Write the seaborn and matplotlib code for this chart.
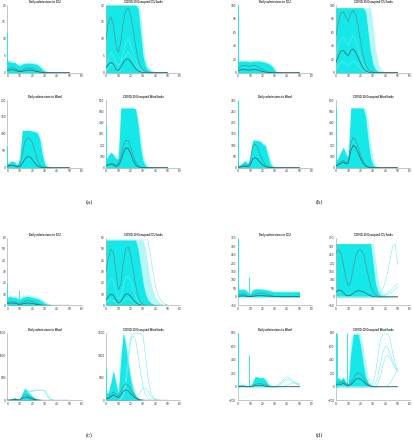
import matplotlib
matplotlib.use("Agg")
import matplotlib.pyplot as plt
import seaborn as sns

sns.set_style("white")
plt.rcParams['font.family'] = ['Liberation Sans', 'DejaVu Sans']

# ---------------- data (days 0..50 every 2 days) ----------------
days = [0, 2, 4, 6, 8, 10, 12, 14, 16, 18, 20, 22, 24, 26, 28, 30, 32, 34, 36, 38, 40, 42, 44, 46, 48, 50]
xticks = [0, 10, 20, 30, 40, 50, 60]

titles = ["Daily admissions to ICU", "COVID-19 Occupied ICU beds",
          "Daily admissions to Ward", "COVID-19 Occupied Ward beds"]
panel_labels = ["(a)", "(b)", "(c)", "(d)"]

# (a)
a1_env = [3.5, 3.2, 3.0, 3.0, 2.4, 2.1, 2.5, 2.7, 2.8, 2.8, 2.7, 2.6, 2.4, 1.8, 1.0, 0.5, 0.3, 0.2, 0.1, 0.1, 0.05, 0, 0, 0, 0, 0]
a1_halo = [3.9, 3.6, 3.4, 3.3, 2.8, 2.5, 2.9, 3.1, 3.2, 3.2, 3.1, 3.0, 2.8, 2.4, 1.6, 0.9, 0.5, 0.3, 0.2, 0.15, 0.1, 0.05, 0.03, 0, 0, 0]
a1_m1 = [1.0, 1.3, 1.5, 1.3, 0.8, 0.5, 0.8, 1.2, 1.4, 1.4, 1.3, 1.0, 0.6, 0.3, 0.1, 0.05, 0, 0, 0, 0, 0, 0, 0, 0, 0, 0]
a1_m2 = [0.6, 0.8, 0.9, 0.8, 0.5, 0.3, 0.4, 0.6, 0.8, 0.8, 0.7, 0.5, 0.3, 0.15, 0.05, 0, 0, 0, 0, 0, 0, 0, 0, 0, 0, 0]

a2_env = [20, 20, 20, 20, 20, 20, 20, 20, 20, 20, 20, 20, 20, 19, 12, 5, 2, 1, 0.5, 0.3, 0.15, 0.1, 0.05, 0, 0, 0]
a2_halo = [20, 20, 20, 20, 20, 20, 20, 20, 20, 20, 20, 20, 20, 20, 18, 10, 4, 2, 1, 0.6, 0.4, 0.3, 0.2, 0.1, 0.05, 0]
a2_in1 = [0.5, 1.5, 2.5, 2, 0.8, 0.4, 1, 3, 5, 6, 5, 3.5, 2, 1, 0.4, 0.2, 0, 0, 0, 0, 0, 0, 0, 0, 0, 0]
a2_in2 = [2, 4, 6, 5, 3, 2, 3, 6, 9, 10, 8, 6, 4, 2, 1, 0.4, 0.1, 0, 0, 0, 0, 0, 0, 0, 0, 0]
a2_m1 = [10, 15, 16.5, 14, 8.5, 6, 9, 15, 18.5, 19, 17, 13, 8, 4, 1.8, 0.8, 0.3, 0.1, 0, 0, 0, 0, 0, 0, 0, 0]
a2_m2 = [1.5, 2.5, 3, 2.5, 1, 0.6, 1.5, 3, 4, 4, 3.3, 2.2, 1.2, 0.6, 0.2, 0.1, 0, 0, 0, 0, 0, 0, 0, 0, 0, 0]

a3_env = [12, 16, 20, 15, 10, 25, 110, 110, 110, 110, 108, 106, 104, 85, 40, 10, 3, 1, 0.5, 0, 0, 0, 0, 0, 0, 0]
a3_halo = [14, 18, 22, 17, 12, 40, 112, 112, 112, 112, 110, 108, 106, 95, 70, 25, 8, 3, 1, 0.5, 0.2, 0, 0, 0, 0, 0]
a3_m1 = [5, 7, 8, 6, 3, 8, 40, 75, 88, 87, 75, 50, 25, 8, 2, 0.5, 0, 0, 0, 0, 0, 0, 0, 0, 0, 0]
a3_m2 = [4, 6, 7, 5, 2, 3, 12, 25, 33, 32, 25, 14, 6, 2, 0.5, 0, 0, 0, 0, 0, 0, 0, 0, 0, 0, 0]

a4_env = [70, 110, 135, 115, 80, 80, 530, 530, 530, 530, 530, 530, 520, 380, 180, 60, 20, 8, 3, 1, 0, 0, 0, 0, 0, 0]
a4_halo = [80, 120, 145, 125, 90, 150, 530, 530, 530, 530, 530, 530, 530, 450, 300, 130, 45, 15, 5, 2, 1, 0, 0, 0, 0, 0]
a4_m1 = [20, 30, 40, 35, 22, 35, 100, 190, 245, 240, 185, 110, 50, 18, 5, 1, 0, 0, 0, 0, 0, 0, 0, 0, 0, 0]
a4_m2 = [15, 25, 30, 25, 12, 18, 60, 130, 175, 170, 125, 65, 25, 8, 2, 0, 0, 0, 0, 0, 0, 0, 0, 0, 0, 0]

# (b)
b1_env = [16, 17, 17, 17, 17, 16, 17, 17, 17, 17, 16, 15, 14, 12, 9, 3, 1, 0.5, 0.3, 0, 0, 0, 0, 0, 0, 0]
b1_halo = [18, 19, 19, 19, 19, 18, 19, 19, 19, 19, 18, 17, 16, 14, 12, 6, 2, 1, 0.5, 0.3, 0.1, 0, 0, 0, 0, 0]
b1_m1 = [6, 9, 11, 11, 10, 9, 11, 11, 9, 7, 5, 3, 1.5, 0.6, 0.2, 0, 0, 0, 0, 0, 0, 0, 0, 0, 0, 0]
b1_m2 = [3, 4, 5, 5, 4, 4, 5, 5, 4, 3, 2, 1, 0.5, 0.2, 0, 0, 0, 0, 0, 0, 0, 0, 0, 0, 0, 0]

b2_env = [96, 96, 96, 96, 96, 96, 96, 96, 96, 96, 96, 96, 90, 60, 30, 12, 5, 2, 1, 0.5, 0.2, 0.1, 0, 0, 0, 0]
b2_halo = [96, 96, 96, 96, 96, 96, 96, 96, 96, 96, 96, 96, 96, 96, 96, 70, 35, 15, 6, 3, 1.5, 0.8, 0.4, 0.2, 0.1, 0]
b2_in1 = [5, 10, 15, 16, 12, 10, 14, 17, 15, 10, 6, 3, 1, 0.4, 0, 0, 0, 0, 0, 0, 0, 0, 0, 0, 0, 0]
b2_in2 = [25, 40, 50, 52, 45, 40, 50, 55, 48, 35, 22, 11, 5, 2, 0.5, 0, 0, 0, 0, 0, 0, 0, 0, 0, 0, 0]
b2_m1 = [55, 75, 88, 90, 82, 76, 88, 92, 85, 68, 45, 25, 12, 5, 2, 0.5, 0, 0, 0, 0, 0, 0, 0, 0, 0, 0]
b2_m2 = [15, 25, 32, 33, 28, 25, 33, 35, 30, 22, 14, 7, 3, 1, 0.3, 0, 0, 0, 0, 0, 0, 0, 0, 0, 0, 0]

b3_env = [10, 12, 22, 30, 18, 40, 120, 122, 120, 118, 105, 100, 60, 20, 6, 2, 1, 0, 0, 0, 0, 0, 0, 0, 0, 0]
b3_halo = [12, 15, 25, 33, 22, 60, 124, 124, 122, 120, 112, 108, 85, 45, 15, 5, 2, 1, 0, 0, 0, 0, 0, 0, 0, 0]
b3_m1 = [3, 5, 9, 12, 8, 25, 95, 105, 90, 60, 35, 15, 5, 1.5, 0.5, 0, 0, 0, 0, 0, 0, 0, 0, 0, 0, 0]
b3_m2 = [2, 3, 5, 6, 4, 10, 38, 45, 38, 25, 14, 6, 2, 0.5, 0, 0, 0, 0, 0, 0, 0, 0, 0, 0, 0, 0]

b4_env = [60, 90, 140, 180, 120, 90, 530, 530, 530, 530, 530, 530, 450, 250, 90, 25, 8, 3, 1, 0, 0, 0, 0, 0, 0, 0]
b4_halo = [70, 100, 150, 190, 130, 200, 530, 530, 530, 530, 530, 530, 530, 420, 220, 80, 25, 8, 3, 1, 0, 0, 0, 0, 0, 0]
b4_m1 = [20, 35, 55, 65, 45, 60, 220, 270, 240, 175, 110, 55, 22, 8, 2, 0, 0, 0, 0, 0, 0, 0, 0, 0, 0, 0]
b4_m2 = [15, 25, 40, 50, 35, 40, 150, 200, 180, 130, 80, 40, 15, 5, 1, 0, 0, 0, 0, 0, 0, 0, 0, 0, 0, 0]

# (c)
c1_env = [7, 8, 7, 7, 6, 5, 7, 7.5, 8, 7.5, 7, 6.5, 6, 5, 3.5, 2, 1, 0.5, 0.2, 0, 0, 0, 0, 0, 0, 0]
c1_halo = [8.5, 9.5, 8.5, 8.5, 7.5, 6.5, 8.5, 9, 9.5, 9, 8.5, 8, 7.5, 6.5, 5.5, 4, 2.5, 1.2, 0.6, 0.3, 0.1, 0, 0, 0, 0, 0]
c1_m1 = [2.5, 3, 3.2, 3, 2, 1.5, 2.5, 3.5, 4, 4, 3.5, 2.5, 1.5, 0.8, 0.3, 0, 0, 0, 0, 0, 0, 0, 0, 0, 0, 0]
c1_m2 = [1.5, 2, 2, 1.8, 1.2, 0.8, 1.2, 1.8, 2, 2, 1.7, 1.2, 0.7, 0.3, 0, 0, 0, 0, 0, 0, 0, 0, 0, 0, 0, 0]

c2_env = [58, 58, 58, 58, 58, 58, 58, 58, 58, 58, 58, 58, 58, 50, 35, 20, 10, 5, 2.5, 1.2, 0.6, 0.3, 0.1, 0, 0, 0]
c2_halo = [58, 58, 58, 58, 58, 58, 58, 58, 58, 58, 58, 58, 58, 58, 58, 58, 50, 35, 22, 13, 7, 4, 2, 1, 0.5, 0.2]
c2_out1 = [58, 58, 58, 58, 58, 58, 58, 58, 58, 58, 58, 58, 58, 58, 58, 58, 58, 58, 45, 30, 18, 10, 5, 2.5, 1, 0.5]
c2_in1 = [2, 4, 5, 4, 2, 1, 1.5, 4, 6, 6, 5, 3, 1.5, 0.5, 0, 0, 0, 0, 0, 0, 0, 0, 0, 0, 0, 0]
c2_in2 = [12, 20, 24, 22, 13, 6, 8, 18, 25, 26, 22, 15, 8, 3, 1, 0, 0, 0, 0, 0, 0, 0, 0, 0, 0, 0]
c2_m1 = [30, 42, 50, 47, 30, 14, 18, 38, 50, 52, 45, 32, 18, 8, 3, 1, 0, 0, 0, 0, 0, 0, 0, 0, 0, 0]
c2_m2 = [5, 8, 10, 9, 5, 2, 3, 7, 10, 10, 8, 5, 2.5, 1, 0.3, 0, 0, 0, 0, 0, 0, 0, 0, 0, 0, 0]

c3_env = [20, 15, 40, 60, 30, 20, 150, 270, 200, 140, 90, 50, 25, 10, 4, 1, 0, 0, 0, 0, 0, 0, 0, 0, 0, 0]
c3_halo = [25, 20, 45, 65, 35, 30, 170, 280, 230, 170, 115, 70, 40, 20, 8, 3, 1, 0, 0, 0, 0, 0, 0, 0, 0, 0]
c3_out1 = [0, 0, 0, 0, 0, 0, 40, 120, 180, 205, 215, 225, 230, 230, 228, 220, 90, 20, 5, 1, 0, 0, 0, 0, 0, 0]
c3_out2 = [0, 0, 0, 0, 0, 0, 30, 100, 160, 190, 200, 210, 215, 218, 215, 205, 150, 50, 12, 3, 0, 0, 0, 0, 0, 0]
c3_m1 = [8, 6, 15, 25, 12, 10, 70, 130, 110, 75, 45, 22, 10, 4, 1.5, 0, 0, 0, 0, 0, 0, 0, 0, 0, 0, 0]
c3_m2 = [5, 4, 10, 15, 8, 6, 40, 75, 65, 45, 28, 14, 6, 2, 0.5, 0, 0, 0, 0, 0, 0, 0, 0, 0, 0, 0]

c4_env = [150, 180, 400, 650, 380, 150, 900, 1500, 1200, 800, 450, 220, 100, 40, 15, 5, 2, 0, 0, 0, 0, 0, 0, 0, 0, 0]
c4_halo = [180, 220, 450, 700, 450, 250, 1100, 1500, 1400, 1000, 600, 320, 150, 60, 25, 8, 3, 1, 0, 0, 0, 0, 0, 0, 0, 0]
c4_out1 = [0, 0, 0, 0, 0, 0, 20, 100, 300, 800, 1300, 1480, 1480, 1480, 1480, 1450, 1000, 500, 200, 80, 30, 10, 0, 0, 0, 0]
c4_out2 = [0, 0, 0, 0, 0, 0, 30, 150, 500, 1000, 1400, 1420, 1350, 1000, 600, 300, 120, 40, 10, 0, 0, 0, 0, 0, 0, 0]
c4_out3 = [0, 0, 0, 0, 0, 0, 0, 0, 0, 0, 0, 0, 40, 100, 200, 260, 270, 200, 100, 40, 10, 0, 0, 0, 0, 0]
c4_m1 = [50, 60, 120, 190, 140, 90, 200, 320, 370, 330, 240, 150, 80, 35, 12, 4, 0, 0, 0, 0, 0, 0, 0, 0, 0, 0]
c4_m2 = [30, 40, 80, 120, 90, 55, 120, 200, 230, 210, 150, 90, 45, 18, 6, 2, 0, 0, 0, 0, 0, 0, 0, 0, 0, 0]

# (d)
d1_env = [45, 42, 45, 42, 28, 18, 40, 46, 46, 46, 44, 42, 40, 36, 32, 30, 30, 30, 30, 30, 30, 30, 30, 30, 30, 30]
d1_halo = [50, 47, 50, 47, 33, 24, 45, 50, 50, 50, 48, 46, 44, 40, 36, 34, 34, 34, 34, 34, 34, 34, 34, 34, 34, 34]
d1_m1 = [10, 15, 18, 14, 5, 3, 8, 15, 20, 22, 22, 20, 15, 10, 6, 3, 1, 0, 0, 0, 0, 0, 0, 0, 0, 0]
d1_m2 = [3, 5, 6, 5, 2, 1, 3, 5, 7, 7, 7, 6, 5, 4, 3, 3, 3, 3, 3, 3, 3, 3, 3, 3, 3, 3]

d2_env = [315, 315, 315, 315, 315, 315, 315, 315, 315, 315, 315, 315, 315, 315, 315, 200, 80, 30, 10, 4, 2, 1, 0.5, 0.5, 0.5, 0.5]
d2_halo = [315, 315, 315, 315, 315, 315, 315, 315, 315, 315, 315, 315, 315, 315, 315, 315, 220, 110, 45, 18, 8, 4, 2, 1, 1, 1]
d2_out1 = [0, 0, 0, 0, 0, 0, 0, 0, 0, 0, 0, 0, 0, 0, 0, 0, 2, 8, 20, 45, 90, 150, 230, 300, 315, 190]
d2_out2 = [0, 0, 0, 0, 0, 0, 0, 0, 0, 0, 0, 0, 0, 0, 0, 0, 0, 0, 3, 8, 15, 25, 38, 52, 66, 80]
d2_out3 = [0, 0, 0, 0, 0, 0, 0, 0, 0, 0, 0, 0, 0, 0, 0, 0, 0, 0, 0, 4, 8, 14, 22, 32, 45, 60]
d2_m1 = [260, 280, 260, 190, 110, 65, 90, 170, 240, 275, 280, 255, 200, 130, 70, 30, 12, 4, 1, 0, 0, 0, 0, 0, 0, 0]
d2_m2 = [30, 40, 38, 25, 10, 5, 10, 22, 32, 36, 35, 30, 22, 13, 6, 2, 0, 0, 0, 0, 0, 0, 0, 0, 0, 0]

d3_env = [30, 25, 30, 20, 15, 10, 60, 150, 145, 130, 140, 110, 50, 20, 8, 3, 1, 0, 0, 0, 0, 0, 0, 0, 0, 0]
d3_halo = [35, 30, 35, 25, 20, 15, 90, 160, 155, 145, 150, 130, 80, 35, 12, 5, 2, 1, 0, 0, 0, 0, 0, 0, 0, 0]
d3_out1 = [0, 0, 0, 0, 0, 0, 0, 0, 0, 0, 0, 0, 0, 0, 0, 5, 20, 50, 90, 130, 145, 130, 100, 70, 45, 30]
d3_out2 = [0, 0, 0, 0, 0, 0, 0, 0, 0, 0, 0, 0, 0, 0, 0, 0, 10, 30, 60, 95, 110, 100, 75, 50, 30, 20]
d3_out3 = [0, 0, 0, 0, 0, 0, 0, 0, 0, 0, 0, 0, 0, 0, 0, 0, 0, 0, 0, 10, 25, 40, 55, 60, 55, 45]
d3_m1 = [5, 8, 10, 8, 3, 3, 15, 35, 45, 45, 40, 25, 12, 5, 2, 1, 1, 2, 3, 4, 4, 4, 3, 3, 2, 2]
d3_m2 = [3, 5, 6, 5, 2, 2, 8, 18, 22, 22, 18, 10, 4, 1, 0, 0, 0, 0, 0, 0, 0, 0, 0, 0, 0, 0]

d4_env = [120, 130, 100, 140, 60, 50, 500, 780, 780, 780, 600, 350, 150, 60, 20, 8, 3, 1, 0, 0, 0, 0, 0, 0, 0, 0]
d4_halo = [130, 140, 120, 150, 80, 120, 700, 780, 780, 780, 780, 600, 350, 150, 50, 15, 5, 2, 0, 0, 0, 0, 0, 0, 0, 0]
d4_out1 = [0, 0, 0, 0, 0, 0, 0, 0, 0, 0, 0, 0, 0, 0, 0, 50, 200, 450, 700, 780, 780, 780, 700, 500, 350, 250]
d4_out2 = [0, 0, 0, 0, 0, 0, 0, 0, 0, 0, 0, 0, 0, 0, 0, 0, 50, 150, 330, 520, 600, 580, 480, 380, 300, 250]
d4_out3 = [0, 0, 0, 0, 0, 0, 0, 0, 0, 0, 0, 0, 0, 0, 0, 0, 0, 50, 150, 320, 440, 465, 420, 340, 280, 220]
d4_out4 = [0, 0, 0, 0, 0, 0, 0, 0, 0, 0, 0, 0, 0, 0, 0, 0, 0, 0, 0, 0, 0, 20, 60, 120, 190, 260]
d4_m1 = [50, 70, 60, 90, 50, 30, 60, 120, 180, 205, 190, 140, 80, 40, 15, 6, 2, 1, 1, 1, 1, 1, 1, 1, 1, 1]
d4_m2 = [30, 40, 35, 55, 30, 15, 30, 70, 110, 125, 115, 85, 45, 20, 8, 3, 0, 0, 0, 0, 0, 0, 0, 0, 0, 0]

# single-day spikes (day, height)
spikes = {
    "a1": ([0], [12]), "a3": ([0], [65]), "a4": ([0], [380]),
    "b1": ([0], [100]), "b3": ([0], [300]), "b4": ([0], [530]),
    "c1": ([0, 9], [20, 14]), "c4": ([0], [700]),
    "d1": ([0, 9], [350, 120]), "d3": ([0, 9], [800, 470]), "d4": ([0, 1, 9], [800, 800, 800]),
}

# y axis settings per subplot
ylims = {
    "a": [(0, 20), (0, 20), (0, 200), (0, 600)],
    "b": [(0, 100), (0, 100), (0, 300), (0, 600)],
    "c": [(0, 60), (0, 60), (0, 1500), (0, 1500)],
    "d": [(-50, 350), (-50, 350), (-200, 800), (-200, 800)],
}
yticks = {
    "a": [[0, 5, 10, 15, 20], [0, 5, 10, 15, 20], [0, 50, 100, 150, 200], [0, 100, 200, 300, 400, 500, 600]],
    "b": [[0, 20, 40, 60, 80, 100], [0, 20, 40, 60, 80, 100], [0, 50, 100, 150, 200, 250, 300], [0, 100, 200, 300, 400, 500, 600]],
    "c": [[0, 10, 20, 30, 40, 50, 60], [0, 10, 20, 30, 40, 50, 60], [0, 500, 1000, 1500], [0, 500, 1000, 1500]],
    "d": [[-50, 0, 50, 100, 150, 200, 250, 300, 350], [-50, 0, 50, 100, 150, 200, 250, 300, 350],
          [-200, 0, 200, 400, 600, 800], [-200, 0, 200, 400, 600, 800]],
}

series = {
    "a1": (a1_env, a1_halo, [], a1_m1, a1_m2),
    "a2": (a2_env, a2_halo, [a2_in1, a2_in2], a2_m1, a2_m2),
    "a3": (a3_env, a3_halo, [], a3_m1, a3_m2),
    "a4": (a4_env, a4_halo, [], a4_m1, a4_m2),
    "b1": (b1_env, b1_halo, [], b1_m1, b1_m2),
    "b2": (b2_env, b2_halo, [b2_in1, b2_in2], b2_m1, b2_m2),
    "b3": (b3_env, b3_halo, [], b3_m1, b3_m2),
    "b4": (b4_env, b4_halo, [], b4_m1, b4_m2),
    "c1": (c1_env, c1_halo, [], c1_m1, c1_m2),
    "c2": (c2_env, c2_halo, [c2_out1, c2_in1, c2_in2], c2_m1, c2_m2),
    "c3": (c3_env, c3_halo, [c3_out1, c3_out2], c3_m1, c3_m2),
    "c4": (c4_env, c4_halo, [c4_out1, c4_out2, c4_out3], c4_m1, c4_m2),
    "d1": (d1_env, d1_halo, [], d1_m1, d1_m2),
    "d2": (d2_env, d2_halo, [d2_out1, d2_out2, d2_out3], d2_m1, d2_m2),
    "d3": (d3_env, d3_halo, [d3_out1, d3_out2, d3_out3], d3_m1, d3_m2),
    "d4": (d4_env, d4_halo, [d4_out1, d4_out2, d4_out3, d4_out4], d4_m1, d4_m2),
}

# ---------------- layout ----------------
W, H = 413, 440
CYAN = "#14e8e8"
LIGHT = "#b4f7f7"
OUT = "#74eeee"
M1 = "#4f9494"
M2 = "#2c5f5f"

fig = plt.figure(figsize=(W / 100, H / 100), dpi=100)

col_x = {"a": [(7.3, 82), (106, 180)], "b": [(237.7, 312), (336, 410)],
         "c": [(7.3, 82), (106, 180)], "d": [(237.7, 312), (336, 410)]}
row_y = {"a": [(5, 72.7), (100, 167.7)], "b": [(5, 72.7), (100, 167.7)],
         "c": [(237.7, 305.3), (332.7, 400.3)], "d": [(237.7, 305.3), (332.7, 400.3)]}
label_pos = {"a": (89, 203), "b": (319, 203), "c": (89, 436), "d": (319, 436)}

for p in ["a", "b", "c", "d"]:
    for i in range(4):
        key = p + str(i + 1)
        x0, x1 = col_x[p][i % 2]
        y0, y1 = row_y[p][i // 2]
        ax = fig.add_axes([x0 / W, 1 - y1 / H, (x1 - x0) / W, (y1 - y0) / H])
        env, halo, extras, m1, m2 = series[key]

        ax.fill_between(days, 0, halo, color=LIGHT, lw=0, zorder=1)
        ax.fill_between(days, 0, env, color=CYAN, lw=0, zorder=2)
        for e in extras:
            sns.lineplot(x=days, y=e, ax=ax, color=OUT, lw=0.4, zorder=3)
        if key in spikes:
            sd, sv = spikes[key]
            ax.vlines(sd, 0, sv, color=CYAN, lw=0.6, zorder=3)
        sns.lineplot(x=days, y=m1, ax=ax, color=M1, lw=0.5, zorder=4)
        sns.lineplot(x=days, y=m2, ax=ax, color=M2, lw=0.5, zorder=4)

        ax.set_xlim(0, 60)
        ax.set_ylim(*ylims[p][i])
        ax.set_xticks(xticks)
        ax.set_yticks(yticks[p][i])
        ax.tick_params(labelsize=2.3, length=1, width=0.3, pad=1, direction="in",
                       colors="#999999", labelcolor="#333333")
        for s in ["top", "right"]:
            ax.spines[s].set_visible(False)
        for s in ["left", "bottom"]:
            ax.spines[s].set_color("#999999")
            ax.spines[s].set_linewidth(0.4)
        ax.set_xlabel("")
        ax.set_ylabel("")
        ax.set_title(titles[i], fontsize=2.0, pad=1.5, fontweight="bold")

    lx, ly = label_pos[p]
    fig.text(lx / W, 1 - ly / H, panel_labels["abcd".index(p)], fontsize=3.8,
             family="DejaVu Serif", ha="center", va="center")

fig.savefig("out.png", dpi=100)
